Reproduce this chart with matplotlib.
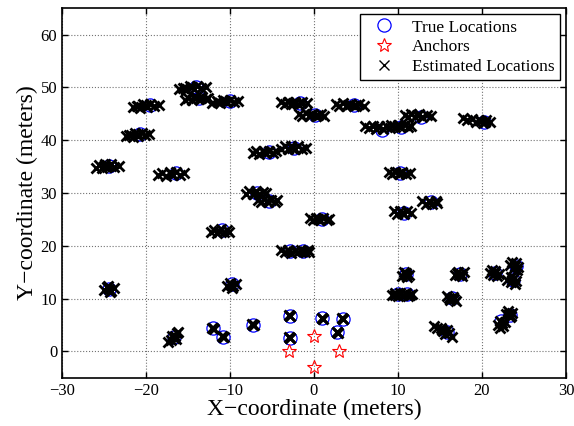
import matplotlib.pyplot as plt

plt.rcParams['font.family'] = ['Liberation Serif', 'DejaVu Serif']

# true node positions (meters)
true_x = [-24.4, -20.7, -19.5, -14.0, -13.7, -10.0, -1.7, 0.1, 4.8, 8.1, 10.4, 12.8, 20.3,
          -16.4, -5.3, -2.4, -6.8, -5.4, 10.2, 13.9, 10.7, 1.0, -11.0, -2.8, -1.3,
          -24.4, -9.8, 11.0, 10.0, 11.1, 17.4, 16.4, 21.5, 24.0, 23.7,
          -16.7, -12.0, -10.8, -7.3, -2.9, -2.9, 1.0, 3.4, 2.8, 15.8, 22.3, 23.3]
true_y = [35.2, 41.1, 46.6, 50.0, 47.9, 47.4, 47.1, 44.7, 46.6, 42.0, 42.5, 44.4, 43.4,
          33.8, 37.8, 38.5, 30.0, 28.5, 33.8, 28.2, 26.3, 25.0, 22.9, 19.0, 19.0,
          11.9, 12.7, 14.6, 10.8, 10.8, 14.7, 10.2, 14.9, 16.2, 13.5,
          2.7, 4.4, 2.8, 5.1, 6.8, 2.6, 6.3, 6.2, 3.6, 3.7, 5.7, 6.9]

anchor_x = [-3, 0, 3, 0]
anchor_y = [0, 3, 0, -3]

# estimated locations, one list per node
est = [
    [(-26.0, 34.8), (-25.6, 35.3), (-25.2, 34.7), (-24.9, 35.5), (-24.6, 34.9), (-24.2, 35.4), (-23.8, 34.9), (-23.2, 35.2), (-24.4, 35.1), (-25.0, 35.1)],
    [(-22.4, 40.7), (-22.0, 41.0), (-21.6, 40.6), (-21.3, 41.3), (-20.9, 40.8), (-20.5, 41.4), (-20.1, 40.9), (-19.7, 41.2), (-21.0, 41.1), (-21.8, 41.0)],
    [(-21.6, 46.2), (-21.1, 46.5), (-20.7, 46.1), (-20.3, 46.8), (-19.9, 46.3), (-19.5, 46.9), (-19.0, 46.4), (-18.4, 46.7), (-20.0, 46.6), (-20.9, 46.5)],
    [(-16.1, 49.6), (-15.6, 49.9), (-15.2, 49.5), (-14.8, 50.2), (-14.3, 49.7), (-13.9, 50.3), (-13.4, 49.8), (-12.8, 50.1), (-14.5, 50.0), (-15.4, 49.9)],
    [(-15.4, 47.6), (-15.0, 48.0), (-14.5, 47.6), (-14.1, 48.2), (-13.7, 47.7), (-13.3, 48.1), (-12.9, 47.8), (-12.6, 48.0), (-14.3, 47.9), (-13.5, 47.9)],
    [(-12.1, 47.1), (-11.6, 47.5), (-11.2, 47.0), (-10.8, 47.6), (-10.4, 47.2), (-10.0, 47.6), (-9.5, 47.2), (-9.0, 47.4), (-10.6, 47.4), (-11.4, 47.3)],
    [(-3.9, 47.3), (-3.5, 46.9), (-3.1, 47.3), (-2.7, 46.8), (-2.3, 47.3), (-1.9, 46.9), (-1.4, 47.3), (-0.8, 47.0), (-2.5, 47.1), (-1.6, 47.1)],
    [(-1.8, 45.0), (-1.4, 44.6), (-1.0, 45.1), (-0.6, 44.5), (-0.2, 45.0), (0.3, 44.6), (0.8, 44.9), (1.2, 44.6), (-0.4, 44.8), (0.5, 44.8)],
    [(2.6, 46.9), (3.0, 46.5), (3.4, 47.0), (3.8, 46.4), (4.3, 46.9), (4.8, 46.4), (5.4, 46.8), (6.0, 46.5), (4.0, 46.7), (5.0, 46.7)],
    [(6.1, 42.6), (6.6, 42.3), (7.0, 42.7), (7.4, 42.2), (7.8, 42.6), (8.2, 42.2), (8.6, 42.7), (9.0, 42.3), (7.6, 42.4)],
    [(9.2, 42.8), (9.6, 42.4), (10.0, 42.9), (10.4, 42.5), (10.8, 42.9), (11.2, 42.4), (11.6, 42.7), (10.3, 42.7)],
    [(10.8, 44.8), (11.2, 44.4), (11.6, 45.0), (12.0, 44.4), (12.5, 44.9), (12.9, 44.4), (13.4, 44.8), (13.9, 44.5), (12.3, 44.7)],
    [(17.7, 44.1), (18.2, 43.8), (18.8, 44.0), (19.3, 43.5), (19.7, 43.9), (20.1, 43.3), (20.5, 43.8), (20.9, 43.4), (19.9, 43.6), (20.4, 43.5)],
    [(-18.6, 33.4), (-18.1, 33.8), (-17.6, 33.2), (-17.2, 33.9), (-16.8, 33.4), (-16.4, 33.9), (-15.9, 33.4), (-15.5, 33.7), (-17.0, 33.6)],
    [(-7.3, 37.5), (-6.9, 37.9), (-6.5, 37.4), (-6.1, 38.0), (-5.7, 37.5), (-5.3, 38.0), (-4.9, 37.6), (-4.5, 37.9), (-5.9, 37.7)],
    [(-3.9, 38.4), (-3.5, 38.8), (-3.1, 38.3), (-2.7, 38.8), (-2.3, 38.3), (-1.9, 38.8), (-1.4, 38.4), (-1.0, 38.6), (-2.6, 38.5)],
    [(-8.1, 29.9), (-7.7, 30.3), (-7.3, 29.8), (-6.9, 30.3), (-6.5, 29.8), (-6.1, 30.2), (-5.7, 30.0), (-7.0, 30.0)],
    [(-6.7, 28.7), (-6.3, 28.3), (-5.9, 28.8), (-5.5, 28.3), (-5.1, 28.7), (-4.7, 28.3), (-4.4, 28.6), (-5.6, 28.5)],
    [(8.9, 33.9), (9.3, 33.5), (9.7, 34.0), (10.1, 33.5), (10.5, 34.0), (10.9, 33.5), (11.4, 33.8), (10.2, 33.7)],
    [(12.9, 28.4), (13.3, 28.0), (13.7, 28.5), (14.1, 28.0), (14.5, 28.4), (14.7, 28.1), (13.8, 28.2)],
    [(9.5, 26.5), (9.9, 26.1), (10.3, 26.6), (10.7, 26.1), (11.1, 26.5), (11.5, 26.2), (10.5, 26.3)],
    [(-0.5, 25.3), (-0.1, 24.8), (0.3, 25.3), (0.7, 24.8), (1.1, 25.2), (1.5, 24.9), (1.8, 25.1), (0.5, 25.0)],
    [(-12.3, 22.6), (-11.9, 23.0), (-11.5, 22.5), (-11.1, 23.1), (-10.7, 22.6), (-10.3, 23.0), (-10.1, 22.7), (-11.3, 22.8)],
    [(-3.9, 19.2), (-3.5, 18.8), (-3.1, 19.2), (-2.7, 18.7), (-2.3, 19.1), (-3.0, 19.0)],
    [(-1.9, 18.8), (-1.5, 19.2), (-1.1, 18.8), (-0.7, 19.2), (-0.6, 18.9), (-1.3, 19.0)],
    [(-25.0, 11.6), (-24.6, 12.2), (-24.2, 11.4), (-23.8, 12.0), (-24.4, 11.8), (-24.5, 12.4), (-24.3, 11.2)],
    [(-10.4, 12.4), (-10.0, 12.9), (-9.6, 12.3), (-9.3, 12.8), (-9.9, 12.6), (-9.8, 12.1)],
    [(10.5, 14.2), (10.9, 14.9), (11.3, 14.4), (10.7, 15.1), (11.1, 14.0), (10.9, 14.5)],
    [(9.3, 10.6), (9.6, 11.0), (10.0, 10.5), (10.3, 11.0), (9.8, 10.8), (9.6, 10.6)],
    [(10.6, 10.6), (11.0, 11.0), (11.4, 10.6), (11.7, 10.9), (11.2, 10.5), (11.0, 10.8)],
    [(16.8, 14.4), (17.2, 15.1), (17.6, 14.2), (17.0, 14.8), (17.5, 14.6), (17.9, 15.0), (17.3, 14.5)],
    [(15.8, 10.5), (16.2, 9.8), (16.5, 10.4), (16.9, 9.6), (16.1, 10.1), (16.7, 9.9), (16.4, 10.2)],
    [(20.9, 14.9), (21.3, 14.4), (21.6, 15.2), (22.0, 14.6), (21.2, 15.4), (21.8, 14.2), (21.5, 14.8)],
    [(23.3, 16.4), (23.7, 15.7), (24.0, 16.7), (24.3, 16.0), (23.6, 16.9), (24.2, 15.5), (23.9, 16.2)],
    [(23.0, 13.6), (23.4, 13.1), (23.8, 13.9), (24.1, 13.3), (23.5, 14.1), (23.9, 12.8), (23.6, 13.5)],
    [(-17.4, 1.7), (-17.0, 2.2), (-16.6, 2.9), (-16.3, 3.4), (-16.9, 3.0), (-16.4, 2.4), (-16.2, 3.7), (-16.7, 2.6)],
    [(-12.1, 4.5), (-11.9, 4.3), (-12.0, 4.4)],
    [(-10.9, 2.9), (-10.7, 2.7), (-10.8, 2.8)],
    [(-7.4, 5.2), (-7.2, 5.0), (-7.3, 5.1)],
    [(-3.0, 6.9), (-2.8, 6.7), (-2.9, 6.8)],
    [(-3.0, 2.7), (-2.8, 2.5), (-2.9, 2.6)],
    [(0.9, 6.4), (1.1, 6.2), (1.0, 6.3)],
    [(3.3, 6.3), (3.5, 6.1), (3.4, 6.2)],
    [(2.7, 3.7), (2.9, 3.5), (2.8, 3.6)],
    [(14.3, 4.8), (14.7, 4.4), (15.1, 4.5), (15.4, 3.9), (15.8, 4.0), (16.1, 3.4), (15.6, 3.3), (16.4, 2.7), (15.2, 4.1)],
    [(21.9, 5.1), (22.2, 5.7), (22.5, 4.8), (22.7, 5.5), (22.1, 4.5), (22.4, 5.3)],
    [(22.9, 7.1), (23.3, 6.5), (23.6, 7.2), (23.1, 7.7), (23.4, 6.8), (23.2, 7.0)],
]

est_x = [p[0] for node in est for p in node]
est_y = [p[1] for node in est for p in node]

fig = plt.figure(figsize=(5.74, 4.26), dpi=100)
ax = fig.add_axes([0.108, 0.113, 0.878, 0.868])

ax.plot(true_x, true_y, 'o', ls='none', mfc='none', mec='blue', ms=9.5, mew=0.9, label='True Locations')
ax.plot(anchor_x, anchor_y, '*', ls='none', mfc='none', mec='red', ms=10, mew=0.8, label='Anchors')
ax.plot(est_x, est_y, 'x', ls='none', color='black', ms=7, mew=2.0, label='Estimated Locations')

ax.set_xlim(-30, 30)
ax.set_ylim(-5, 65)
ax.set_xticks(range(-30, 31, 10))
ax.set_yticks(range(0, 61, 10))
ax.grid(True, ls=':', color='0.45', lw=0.8)
ax.tick_params(direction='in', top=True, right=True, labelsize=12, length=4, width=1)
for s in ax.spines.values():
    s.set_linewidth(1.2)

ax.set_xlabel('X\u2212coordinate (meters)', fontsize=17, labelpad=0)
ax.set_ylabel('Y\u2212coordinate (meters)', fontsize=17, labelpad=2)

leg = ax.legend(loc='upper right', fontsize=12.5, fancybox=False, framealpha=1, edgecolor='black',
                borderpad=0.3, labelspacing=0.2, handletextpad=0.5, handlelength=2.2,
                borderaxespad=0.35)
leg.get_frame().set_linewidth(1.0)
leg.legend_handles[2].set_markeredgewidth(1.0)

fig.savefig('out.png', dpi=100)
